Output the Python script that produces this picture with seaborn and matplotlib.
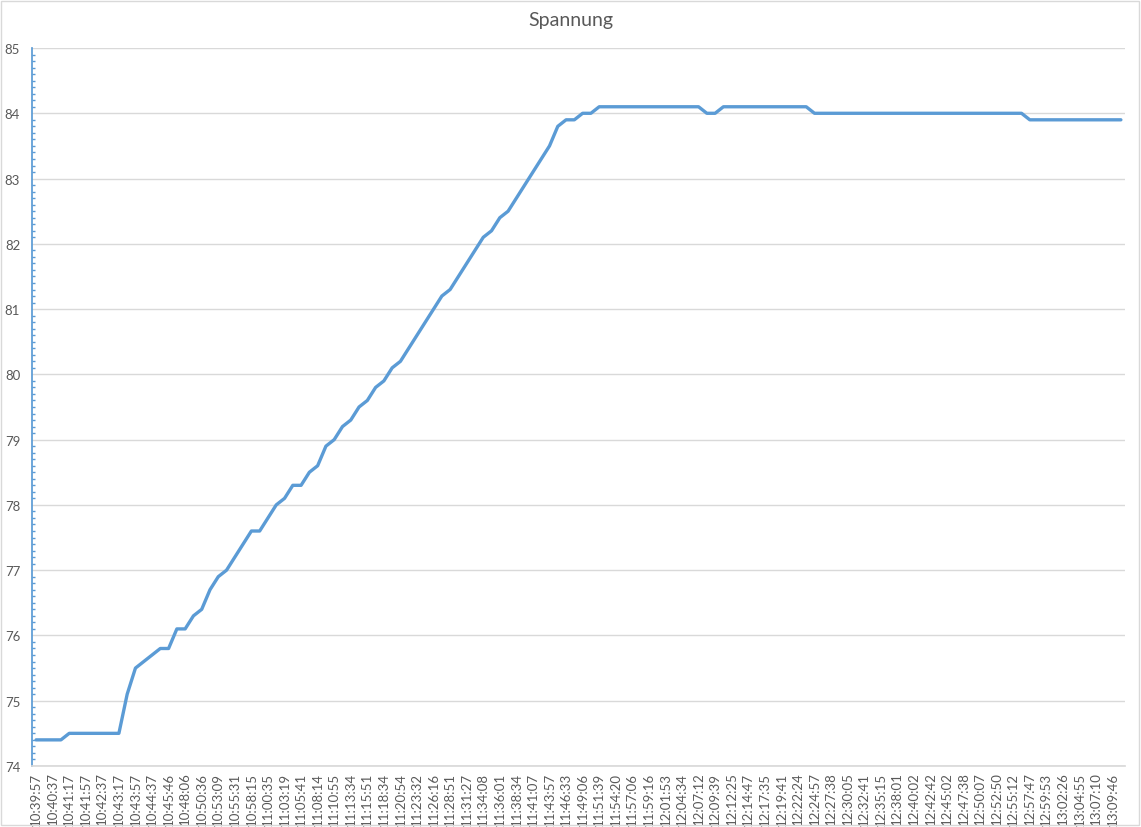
import matplotlib
matplotlib.use("Agg")
import matplotlib.pyplot as plt
from matplotlib.patches import Rectangle
from matplotlib.ticker import MultipleLocator
import numpy as np
import pandas as pd
import seaborn as sns

# Spannung readings, one per sample (132 samples)
spannung = [
    74.4, 74.4, 74.4, 74.4,
    74.5, 74.5, 74.5, 74.5, 74.5, 74.5, 74.5,
    75.1, 75.5, 75.6, 75.7, 75.8, 75.8, 76.1, 76.1, 76.3, 76.4,
    76.7, 76.9, 77.0, 77.2, 77.4, 77.6, 77.6, 77.8, 78.0, 78.1,
    78.3, 78.3, 78.5, 78.6, 78.9, 79.0, 79.2, 79.3, 79.5, 79.6,
    79.8, 79.9, 80.1, 80.2, 80.4, 80.6, 80.8, 81.0, 81.2, 81.3,
    81.5, 81.7, 81.9, 82.1, 82.2, 82.4, 82.5, 82.7, 82.9, 83.1,
    83.3, 83.5, 83.8, 83.9, 83.9, 84.0, 84.0,
    84.1, 84.1, 84.1, 84.1, 84.1, 84.1, 84.1, 84.1, 84.1, 84.1, 84.1, 84.1, 84.1,
    84.0, 84.0,
    84.1, 84.1, 84.1, 84.1, 84.1, 84.1, 84.1, 84.1, 84.1, 84.1, 84.1,
    84.0, 84.0, 84.0, 84.0, 84.0, 84.0, 84.0, 84.0, 84.0, 84.0, 84.0, 84.0, 84.0,
    84.0, 84.0, 84.0, 84.0, 84.0, 84.0, 84.0, 84.0, 84.0, 84.0, 84.0, 84.0, 84.0,
    83.9, 83.9, 83.9, 83.9, 83.9, 83.9, 83.9, 83.9, 83.9, 83.9, 83.9, 83.9,
]

# labels shown under every second sample
zeit_labels = [
    "10:39:57", "10:40:37", "10:41:17", "10:41:57", "10:42:37", "10:43:17",
    "10:43:57", "10:44:37", "10:45:46", "10:48:06", "10:50:36", "10:53:09",
    "10:55:31", "10:58:15", "11:00:35", "11:03:19", "11:05:41", "11:08:14",
    "11:10:55", "11:13:34", "11:15:51", "11:18:34", "11:20:54", "11:23:32",
    "11:26:16", "11:28:51", "11:31:27", "11:34:08", "11:36:01", "11:38:34",
    "11:41:07", "11:43:57", "11:46:33", "11:49:06", "11:51:39", "11:54:20",
    "11:57:06", "11:59:16", "12:01:53", "12:04:34", "12:07:12", "12:09:39",
    "12:12:25", "12:14:47", "12:17:35", "12:19:41", "12:22:24", "12:24:57",
    "12:27:38", "12:30:05", "12:32:41", "12:35:15", "12:38:01", "12:40:02",
    "12:42:42", "12:45:02", "12:47:38", "12:50:07", "12:52:50", "12:55:12",
    "12:57:47", "12:59:53", "13:02:26", "13:04:55", "13:07:10", "13:09:46",
]

df = pd.DataFrame({"idx": np.arange(len(spannung)), "Spannung": spannung})

sns.set_theme(style="white")
plt.rcParams["font.family"] = ["Lato", "DejaVu Sans"]

grau = "#595959"
blau = "#5b9bd5"

fig = plt.figure(figsize=(11.41, 8.28), dpi=100)
ax = fig.add_axes([0.028, 0.0737, 0.958, 0.8671])

sns.lineplot(data=df, x="idx", y="Spannung", ax=ax, color=blau, linewidth=2.4)

ax.set_xlim(-0.5, len(spannung) - 0.5)
ax.set_ylim(74, 85)
ax.yaxis.set_major_locator(MultipleLocator(1))
ax.yaxis.set_minor_locator(MultipleLocator(0.1))
ax.grid(axis="y", which="major", color="#d9d9d9", linewidth=1)
ax.set_axisbelow(True)

ax.set_xticks(np.arange(0, len(spannung), 2))
ax.set_xticklabels(zeit_labels, rotation=90, fontsize=9.5, color=grau)
ax.tick_params(axis="x", length=0, pad=4)
ax.tick_params(axis="y", which="major", direction="inout", length=5, width=1,
               color=blau, labelsize=9.5, labelcolor=grau, pad=6)
ax.tick_params(axis="y", which="minor", direction="in", length=2.5, width=1,
               color=blau, left=True)
ax.set_xlabel("")
ax.set_ylabel("")

for s in ["top", "right"]:
    ax.spines[s].set_visible(False)
ax.spines["left"].set_color(blau)
ax.spines["bottom"].set_color("#d9d9d9")

fig.suptitle("Spannung", x=0.5, y=0.985, fontsize=14, color=grau)

fig.patches.append(Rectangle((0.001, 0.002), 0.997, 0.996, transform=fig.transFigure,
                             fill=False, edgecolor="#d9d9d9", linewidth=1))

fig.savefig("out.png", dpi=100)
